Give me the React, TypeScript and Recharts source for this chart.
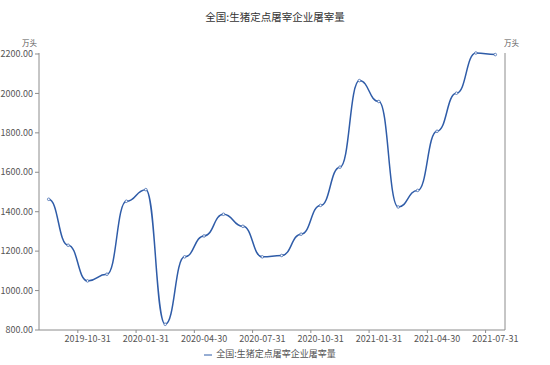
import React from 'react';
import { LineChart, Line, XAxis, YAxis, Legend } from 'recharts';

const dates = [
  '2019-08-31', '2019-09-30', '2019-10-31', '2019-11-30', '2019-12-31',
  '2020-01-31', '2020-02-29', '2020-03-31', '2020-04-30', '2020-05-31',
  '2020-06-30', '2020-07-31', '2020-08-31', '2020-09-30', '2020-10-31',
  '2020-11-30', '2020-12-31', '2021-01-31', '2021-02-28', '2021-03-31',
  '2021-04-30', '2021-05-31', '2021-06-30', '2021-07-31',
];
const values = [
  1463, 1230, 1049, 1083, 1453,
  1512, 829, 1171, 1277, 1387,
  1326, 1171, 1178, 1286, 1432,
  1626, 2065, 1959, 1424, 1508,
  1808, 2001, 2205, 2197,
];
const xTickIndex = [2, 5, 8, 11, 14, 17, 20, 23];
const yTicks = [800, 1000, 1200, 1400, 1600, 1800, 2000, 2200];
const seriesName = '全国:生猪定点屠宰企业屠宰量';
const title = '全国:生猪定点屠宰企业屠宰量';
const unit = '万头';

const W = 550;
const H = 365;
const LEFT_AXIS_W = 39;
const RIGHT_AXIS_W = 45;
const HALF_BAND = (W - LEFT_AXIS_W - RIGHT_AXIS_W) / dates.length / 2;
const LINE_COLOR = '#2f5ca8';
const AXIS_COLOR = '#8c8c8c';
const TEXT_COLOR = '#555';
const FONT = '"Noto Sans CJK SC", "Noto Sans", sans-serif';

const data = dates.map((d, i) => ({ pos: i + 0.5, date: d, value: values[i] }));

const XTick = (props: any) => {
  const { x, y, payload } = props;
  return (
    <text x={x + HALF_BAND} y={y} dy="0.71em" textAnchor="middle" fontSize={9} fill={TEXT_COLOR} fontFamily={FONT}>
      {dates[payload.value]}
    </text>
  );
};

export default function App() {
  return (
    <div style={{ position: 'absolute', left: 0, top: 0, width: W, height: H, background: '#fff', fontFamily: FONT }}>
      <div style={{ position: 'absolute', left: 0, top: 9, width: W, textAlign: 'center', fontSize: 10.5, lineHeight: '16px', color: '#333' }}>
        {title}
      </div>
      <LineChart width={W} height={H} data={data} margin={{ top: 53, right: 0, bottom: 5, left: 0 }}>
        <XAxis
          dataKey="pos"
          type="number"
          domain={[0, dates.length]}
          ticks={xTickIndex}
          interval={0}
          tick={<XTick />}
          tickSize={3}
          tickMargin={3}
          height={18}
          stroke={AXIS_COLOR}
          allowDataOverflow
        />
        <YAxis
          yAxisId="left"
          orientation="left"
          domain={[800, 2200]}
          ticks={yTicks}
          width={LEFT_AXIS_W}
          tickSize={4}
          tickMargin={2}
          interval={0}
          tickFormatter={(v: number) => v.toFixed(2)}
          tick={{ fontSize: 9, fill: TEXT_COLOR, fontFamily: FONT }}
          stroke={AXIS_COLOR}
          label={{ value: unit, position: 'top', dx: 10, offset: 7, fontSize: 7.5, fill: TEXT_COLOR, fontFamily: FONT }}
        />
        <YAxis
          yAxisId="right"
          orientation="right"
          domain={[800, 2200]}
          ticks={yTicks}
          width={RIGHT_AXIS_W}
          tickSize={3}
          tickMargin={2}
          interval={0}
          tickFormatter={(v: number) => v.toFixed(2)}
          tick={{ fontSize: 9, fill: TEXT_COLOR, fontFamily: FONT }}
          stroke={AXIS_COLOR}
          label={{ value: unit, position: 'top', dx: -16, offset: 7, fontSize: 7.5, fill: TEXT_COLOR, fontFamily: FONT }}
        />
        <Legend
          verticalAlign="bottom"
          align="center"
          iconType="plainline"
          iconSize={8}
          wrapperStyle={{ fontSize: 9, lineHeight: '12px', fontFamily: FONT }}
          formatter={(v: string) => <span style={{ color: TEXT_COLOR }}>{v}</span>}
        />
        <Line
          yAxisId="left"
          dataKey="value"
          name={seriesName}
          type="bump"
          stroke={LINE_COLOR}
          strokeWidth={1.5}
          dot={{ r: 1.3, fill: '#fff', stroke: LINE_COLOR, strokeWidth: 0.7 }}
          activeDot={false}
          isAnimationActive={false}
        />
      </LineChart>
    </div>
  );
}
